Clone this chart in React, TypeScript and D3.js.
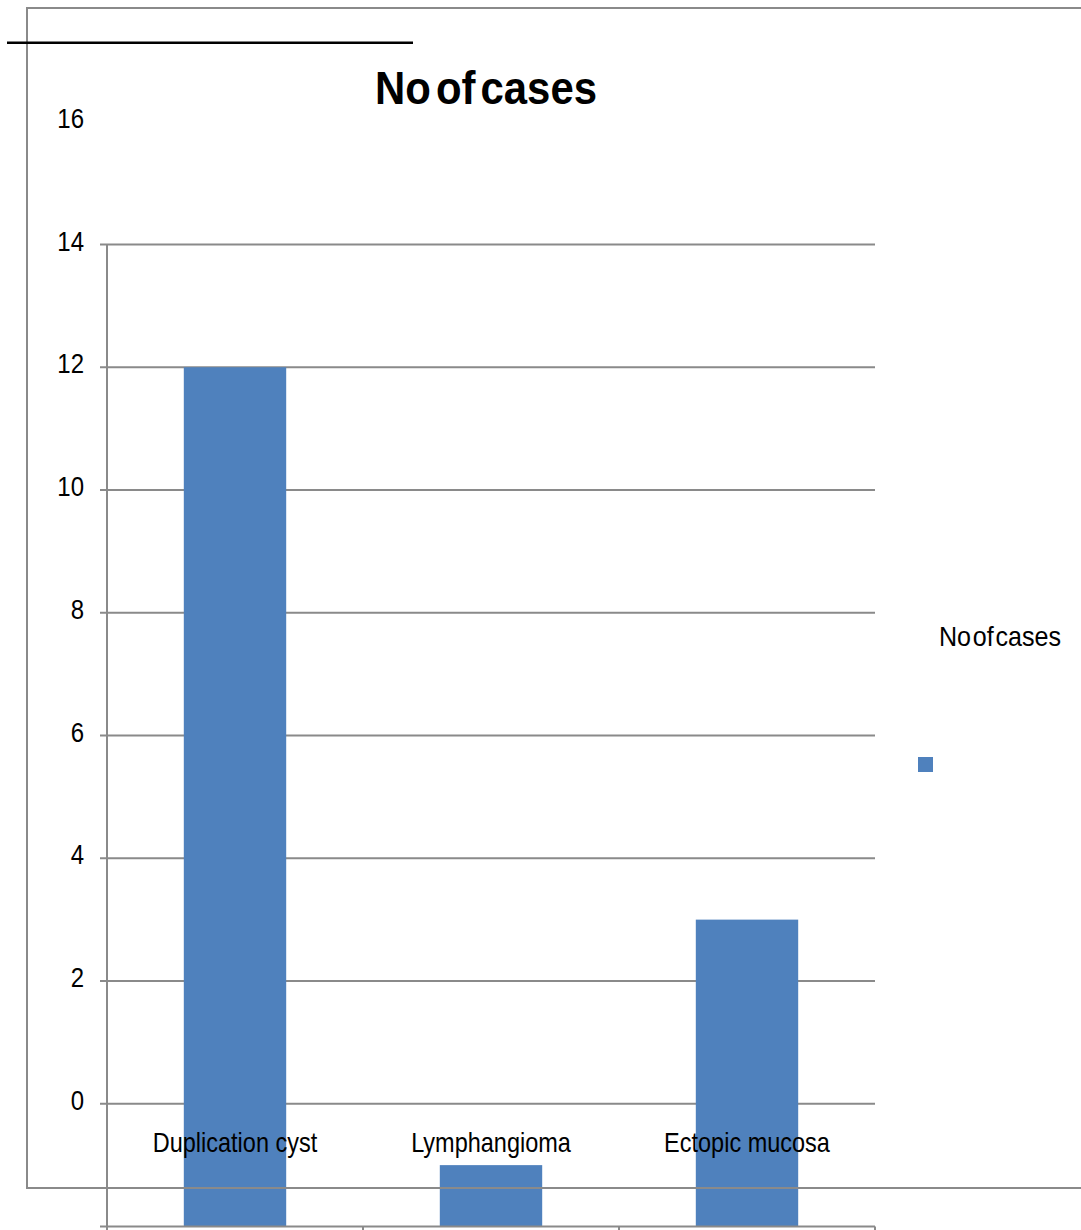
import React from "react";
import * as d3 from "d3";

const categories = ["Duplication cyst", "Lymphangioma", "Ectopic mucosa"];
const values = [12, -1, 3];
const yTicks = [0, 2, 4, 6, 8, 10, 12, 14, 16];
const gridTicks = [0, 2, 4, 6, 8, 10, 12, 14];
const seriesName = "No of cases";
const title = "No of cases";

const W = 1081;
const H = 1230;
const plotLeft = 107;
const plotRight = 875;
const plotTop = 244.5;
const plotBottom = 1226.5;

export default function App() {
  const x = d3
    .scaleBand<string>()
    .domain(categories)
    .range([plotLeft, plotRight])
    .paddingInner(0.6)
    .paddingOuter(0.3);
  const xEdges = d3.scaleLinear().domain([0, categories.length]).range([plotLeft, plotRight]);
  const y = d3.scaleLinear().domain([-2, 14]).range([plotBottom, plotTop]);
  const gray = "#8a8a8a";
  const font = "Arial, 'Liberation Sans', sans-serif";
  const base = y.range()[0];

  return (
    <svg
      width={W}
      height={H}
      style={{ position: "absolute", left: 0, top: 0, background: "#fff" }}
      fontFamily={font}
    >
      <rect x={0} y={0} width={W} height={H} fill="#fff" />
      {/* outer frame */}
      <line x1={27} y1={8} x2={W} y2={8} stroke={gray} strokeWidth={2} />
      <line x1={27} y1={7} x2={27} y2={1189} stroke={gray} strokeWidth={2} />
      <line x1={7} y1={42.8} x2={413} y2={42.8} stroke="#000" strokeWidth={2.6} />

      {/* gridlines */}
      {gridTicks.map((t) => (
        <line key={"g" + t} x1={plotLeft - 7} x2={plotRight} y1={y(t)} y2={y(t)} stroke={gray} strokeWidth={2} />
      ))}

      {/* bars */}
      {categories.map((c, i) => (
        <rect
          key={c}
          x={x(c)!}
          width={x.bandwidth()}
          y={Math.min(y(values[i]), base)}
          height={Math.abs(base - y(values[i]))}
          fill="#4F81BD"
        />
      ))}

      {/* frame bottom line over bars */}
      <line x1={26} y1={1188} x2={W} y2={1188} stroke={gray} strokeWidth={2} />

      {/* axes */}
      <line x1={plotLeft} x2={plotLeft} y1={plotTop} y2={H} stroke={gray} strokeWidth={2} />
      <line x1={plotLeft - 7} x2={plotRight} y1={base} y2={base} stroke={gray} strokeWidth={2} />
      {d3.range(categories.length + 1).map((i) => (
        <line key={"xt" + i} x1={xEdges(i)} x2={xEdges(i)} y1={base} y2={H} stroke={gray} strokeWidth={2} />
      ))}

      {/* y tick labels */}
      {yTicks.map((t) => (
        <g key={"yl" + t} transform={`translate(84,${y(t) + 6}) scale(1,1.15)`}>
          <text textAnchor="end" fontSize={24} fill="#000">
            {t}
          </text>
        </g>
      ))}

      {/* category labels */}
      {categories.map((c) => (
        <g key={"cl" + c} transform={`translate(${x(c)! + x.bandwidth() / 2},1152) scale(1,1.15)`}>
          <text textAnchor="middle" fontSize={23.5} fill="#000">
            {c}
          </text>
        </g>
      ))}

      {/* title */}
      <g transform="translate(486,104) scale(1,1.2)">
        <text
          x={-111}
          fontSize={38}
          fontWeight="bold"
          fill="#000"
          textLength={222}
          lengthAdjust="spacingAndGlyphs"
          wordSpacing={-6}
        >
          {title}
        </text>
      </g>

      {/* legend */}
      <g transform="translate(939,646) scale(1,1.15)">
        <text fontSize={24} fill="#000" textLength={122} lengthAdjust="spacingAndGlyphs" wordSpacing={-5}>
          {seriesName}
        </text>
      </g>
      <rect x={918} y={757} width={15} height={15} fill="#4F81BD" />
    </svg>
  );
}
